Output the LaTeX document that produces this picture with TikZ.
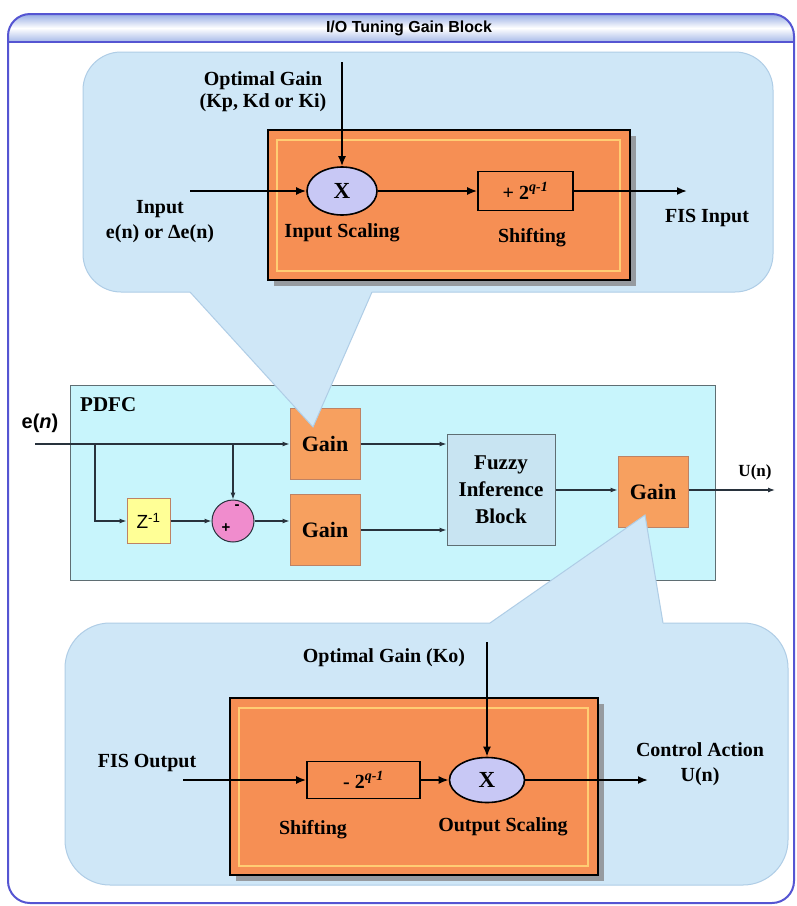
\documentclass[tikz,border=0pt]{standalone}
\usepackage{fontspec}
\setmainfont{Liberation Serif}
\setsansfont{Liberation Sans}
\usetikzlibrary{arrows.meta,shapes.geometric}
\definecolor{framec}{RGB}{85,85,210}
\definecolor{titA}{RGB}{150,172,228}
\definecolor{callf}{RGB}{207,231,247}
\definecolor{callb}{RGB}{175,205,230}
\definecolor{orangeF}{RGB}{246,143,84}
\definecolor{orangeY}{RGB}{255,205,115}
\definecolor{shadowc}{RGB}{150,155,160}
\definecolor{ellf}{RGB}{200,200,245}
\definecolor{pdfcf}{RGB}{200,245,252}
\definecolor{pdfcb}{RGB}{95,110,115}
\definecolor{gainf}{RGB}{247,160,95}
\definecolor{gainb}{RGB}{190,130,100}
\definecolor{fuzf}{RGB}{200,228,242}
\definecolor{zf}{RGB}{255,255,150}
\definecolor{sumf}{RGB}{240,140,205}
\definecolor{sigc}{RGB}{40,50,60}
\tikzset{
  lbl/.style={font=\fontsize{20}{22}\selectfont\bfseries, align=center, inner sep=0pt},
  plbl/.style={font=\fontsize{21}{27}\selectfont\bfseries, align=center, inner sep=0pt},
  bigarr/.style={line width=1.8pt, -{Latex[length=10pt,width=8pt]}},
  sig/.style={line width=1.1pt, draw=sigc, -{Latex[length=7pt,width=5pt]}},
  obox/.style={draw, line width=1.8pt, fill=orangeF, inner sep=0pt},
  shbox/.style={draw, line width=1.6pt, fill=orangeF, inner sep=0pt,
    font=\fontsize{20}{22}\selectfont\bfseries},
  ellbox/.style={ellipse, draw, line width=1.6pt, fill=ellf, inner sep=0pt,
    font=\fontsize{23}{25}\selectfont\bfseries},
  gainbox/.style={draw=gainb, line width=1pt, fill=gainf, minimum width=70pt,
    minimum height=71pt, inner sep=0pt, font=\fontsize{22}{24}\selectfont\bfseries},
}
\begin{document}
\begin{tikzpicture}[x=1pt,y=-1pt]
\useasboundingbox (0,0) rectangle (797,906);
\fill[white] (0,0) rectangle (797,906);
% outer frame
\begin{scope}
\clip[rounded corners=22pt] (8,14) rectangle (794,903);
\shade[top color=titA, bottom color=titA!85, middle color=white] (8,14) rectangle (794,42);
\end{scope}
\draw[framec, line width=1.5pt] (8,42) -- (794,42);
\draw[framec, line width=2pt, rounded corners=22pt] (8,14) rectangle (794,903);
\node[font=\sffamily\bfseries\fontsize{16}{18}\selectfont] (title) at (409,28) {I/O Tuning Gain Block};

% PDFC block
\node[draw=pdfcb, fill=pdfcf, line width=1pt, minimum width=645pt, minimum height=195pt, inner sep=0pt] (pdfc) at (392.5,482.5) {};
\node[plbl, anchor=west] (pdfclbl) at (80,405) {PDFC};
\node[font=\sffamily\bfseries\fontsize{20}{22}\selectfont, inner sep=0pt] (elbl) at (40,423) {e(\textit{n})};
\node[gainbox] (gain1) at (325,444) {Gain};
\node[gainbox] (gain2) at (325,530) {Gain};
\node[draw=gainb, line width=1pt, fill=zf, minimum width=43pt, minimum height=45pt, inner sep=0pt,
  font=\sffamily\fontsize{19}{21}\selectfont] (zb) at (148.5,521) {Z\textsuperscript{-1}};
\node[circle, draw=sigc, line width=1pt, fill=sumf, minimum size=42pt, inner sep=0pt] (sum) at (233,521) {};
\node[font=\sffamily\bfseries\fontsize{15}{15}\selectfont, inner sep=0pt] (minus) at (237,507) {-};
\node[font=\sffamily\bfseries\fontsize{15}{15}\selectfont, inner sep=0pt] (plus) at (226,528) {+};
\node[draw=pdfcb, line width=1pt, fill=fuzf, minimum width=108pt, minimum height=111pt, inner sep=0pt, plbl] (fuzzy) at (501,490) {Fuzzy\\Inference\\Block};
\node[gainbox] (gain3) at (653,492) {Gain};
\node[font=\fontsize{17}{19}\selectfont\bfseries, inner sep=0pt] (ulbl) at (755,472) {U(n)};

\coordinate (ein) at (35,444);
\coordinate (b1) at (95,444);
\coordinate (b2) at (233,444);
\coordinate (uout) at (775,490);
\draw[sig] (ein) -- (gain1.west);
\draw[sig] (b1) |- (zb.west);
\draw[sig] (b2) -- (sum.north);
\draw[sig] (zb.east) -- (sum.west);
\draw[sig] (sum.east) -- (sum.east -| gain2.west);
\draw[sig] (gain1.east) -- (gain1.east -| fuzzy.west);
\draw[sig] (gain2.east) -- (gain2.east -| fuzzy.west);
\draw[sig] (fuzzy.east) -- (fuzzy.east -| gain3.west);
\draw[sig] (fuzzy.east -| gain3.east) -- (uout);

% top callout
\fill[callf, draw=callb, line width=1pt, rounded corners=38pt] (83,52) rectangle (773,292);
\fill[callf] (190,292) -- (313,427) -- (372,292) -- (372,285) -- (190,285) -- cycle;
\draw[callb, line width=1pt] (190,292) -- (313,427) -- (372,292);

% bottom callout
\fill[callf, draw=callb, line width=1pt, rounded corners=45pt] (65,623) rectangle (788,885);
\fill[callf] (490,623) -- (645,515) -- (663,623) -- (663,630) -- (490,630) -- cycle;
\draw[callb, line width=1pt] (490,623) -- (645,515) -- (663,623);

% top detail
\fill[shadowc] (274,136) rectangle (636,286);
\node[obox, minimum width=362pt, minimum height=150pt] (otop) at (449,205) {};
\draw[orangeY, line width=1.5pt] (277,140) rectangle (620,271);
\node[ellbox, minimum width=70pt, minimum height=48pt] (xtop) at (342,191) {X};
\node[shbox, minimum width=95pt, minimum height=39pt] (shtop) at (525.5,191) {+ 2\textsuperscript{\itshape q-1}};
\coordinate (ogt) at (342,62);
\coordinate (inl) at (190,191);
\coordinate (fisi) at (687,191);
\draw[bigarr] (ogt) -- (xtop.north);
\draw[bigarr] (inl) -- (xtop.west);
\draw[bigarr] (xtop.east) -- (shtop.west);
\draw[bigarr] (shtop.east) -- (fisi);
\node[lbl] (oglbl) at (263,92) {Optimal Gain\\(Kp, Kd or Ki)};
\node[lbl] (inlbl) at (160,222) {Input\\[3pt]e(n) or Δe(n)};
\node[lbl] (islbl) at (342,233) {Input Scaling};
\node[lbl] (sh1lbl) at (532,238) {Shifting};
\node[lbl] (fisilbl) at (707,218) {FIS Input};

% bottom detail
\fill[shadowc] (236,704) rectangle (604,881);
\node[obox, minimum width=368pt, minimum height=177pt] (obot) at (414,786.5) {};
\draw[orangeY, line width=1.5pt] (239,708) rectangle (588,866);
\node[shbox, minimum width=113pt, minimum height=37pt] (shbot) at (363.5,780) {- 2\textsuperscript{\itshape q-1}};
\node[ellbox, minimum width=75pt, minimum height=45pt] (xbot) at (487,780) {X};
\coordinate (ogk) at (487,642);
\coordinate (fiso) at (183,780);
\coordinate (ca) at (648,780);
\draw[bigarr] (ogk) -- (xbot.north);
\draw[bigarr] (fiso) -- (shbot.west);
\draw[bigarr] (shbot.east) -- (xbot.west);
\draw[bigarr] (xbot.east) -- (ca);
\node[lbl] (ogklbl) at (384,658) {Optimal Gain (Ko)};
\node[lbl] (fisolbl) at (147,763) {FIS Output};
\node[lbl] (calbl) at (700,764) {Control Action\\[3pt]U(n)};
\node[lbl] (sh2lbl) at (313,830) {Shifting};
\node[lbl] (oslbl) at (503,827) {Output Scaling};
\end{tikzpicture}
\end{document}
